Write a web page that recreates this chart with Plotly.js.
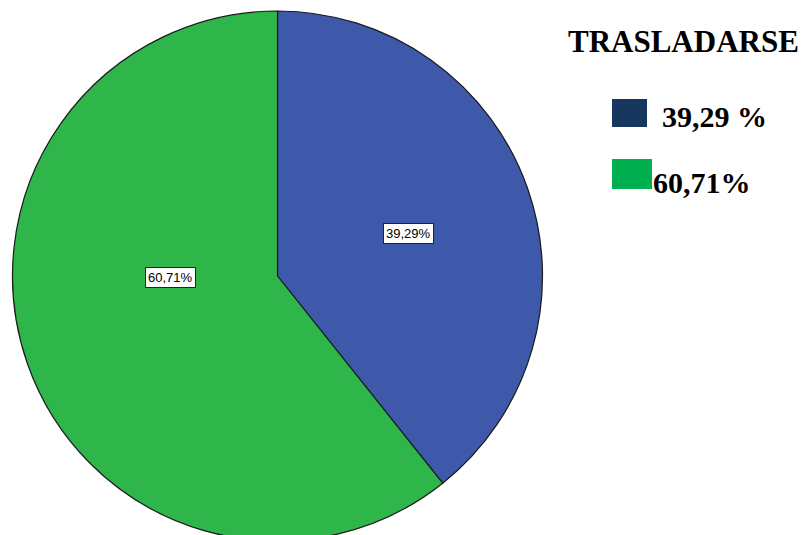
<!DOCTYPE html>
<html><head><meta charset="utf-8">
<script src="https://cdn.plot.ly/plotly-3.0.1.min.js"></script>
<style>html,body{margin:0;padding:0;overflow:hidden;background:#fff}#c{width:805px;height:541px}</style>
</head><body><div id="c"></div>
<script>
const categories = ["39,29 %", "60,71%"];
const values = [39.29, 60.71];
const sliceLabels = ["39,29%", "60,71%"];
const sliceColors = ["#3E58AA", "#2EB64A"];
const legendColors = ["#17375E", "#00B050"];
const chartTitle = "TRASLADARSE";

const W = 805, H = 541, ML = 12, MT = 11;
const PW = W - ML, PH = H - MT;
const px = x => (x - ML) / PW;
const py = y => (H - y) / PH;

const trace = {
  type: "pie", values: values, labels: categories, sort: false,
  direction: "clockwise", rotation: 0, textinfo: "none", hoverinfo: "none",
  marker: {colors: sliceColors, line: {color: "#1a1a1a", width: 1.2}},
  domain: {x: [0, 531 / PW], y: [0, 1]}
};

const serif = "Liberation Serif, Times New Roman, serif";
const sans = "Liberation Sans, Arial, sans-serif";
const annotations = [
  {x: px(683), y: py(42), xanchor: "center", text: "<b>" + chartTitle + "</b>", font: {family: serif, size: 31, color: "#000"}},
  {x: px(660), y: py(117), xanchor: "left", text: "<b>" + categories[0] + "</b>", font: {family: serif, size: 30, color: "#000"}},
  {x: px(651), y: py(182), xanchor: "left", text: "<b>" + categories[1] + "</b>", font: {family: serif, size: 30, color: "#000"}},
  {x: px(408.5), y: py(233), xanchor: "center", text: sliceLabels[0], font: {family: sans, size: 13, color: "#000"}, bgcolor: "#fff", bordercolor: "#222", borderwidth: 1, borderpad: 2},
  {x: px(170), y: py(277.5), xanchor: "center", text: sliceLabels[1], font: {family: sans, size: 13, color: "#000"}, bgcolor: "#fff", bordercolor: "#222", borderwidth: 1, borderpad: 2}
].map(a => Object.assign({xref: "paper", yref: "paper", showarrow: false, yanchor: "middle"}, a));

const shapes = [
  {x0: px(612), x1: px(647), y0: py(127), y1: py(99), fillcolor: legendColors[0]},
  {x0: px(612), x1: px(652), y0: py(189), y1: py(159), fillcolor: legendColors[1]}
].map(s => Object.assign({type: "rect", xref: "paper", yref: "paper", line: {width: 0}}, s));

Plotly.newPlot("c", [trace], {
  width: W, height: H, margin: {l: ML, r: 0, t: MT, b: 0},
  showlegend: false, paper_bgcolor: "#fff", plot_bgcolor: "#fff",
  annotations: annotations, shapes: shapes
}, {displayModeBar: false, staticPlot: true});
</script></body></html>
